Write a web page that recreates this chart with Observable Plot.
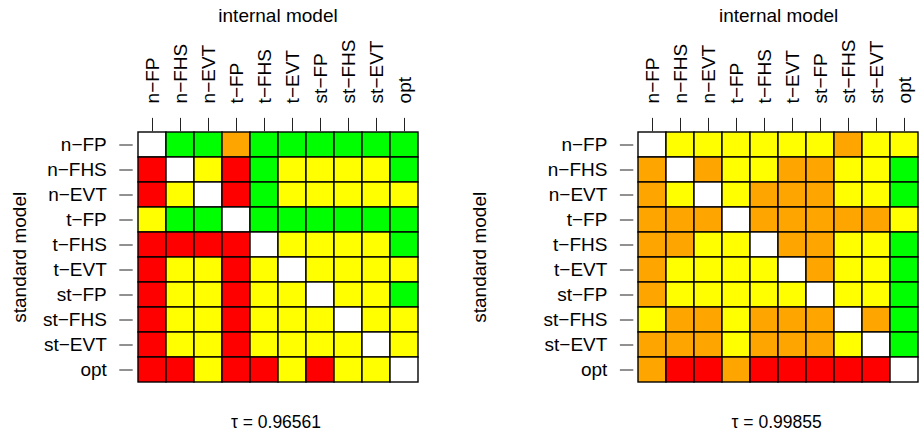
<!DOCTYPE html>
<html><head><meta charset="utf-8">
<script src="https://cdn.jsdelivr.net/npm/d3@7"></script>
<script src="https://cdn.jsdelivr.net/npm/@observablehq/plot@0.6"></script>
<style>
html,body{margin:0;padding:0;background:#fff;overflow:hidden;width:920px;height:438px;}
#wrap{position:relative;width:920px;height:438px;overflow:hidden;}
.panel{position:absolute;top:0;}
</style></head><body><div id="wrap"></div>
<script>
// model labels (rows = standard model, columns = internal model)
const models = ["n\u2212FP","n\u2212FHS","n\u2212EVT","t\u2212FP","t\u2212FHS","t\u2212EVT","st\u2212FP","st\u2212FHS","st\u2212EVT","opt"];
// cell categories: W = diagonal, G = green, Y = yellow, O = orange, R = red
const leftRows = [
  "WGGOGGGGGG",
  "RWYRGYYYYG",
  "RYWRGYYYYY",
  "YGGWGGGGGG",
  "RRRRWYYYYG",
  "RYYRYWYYYY",
  "RYYRYYWYYG",
  "RYYRYYYWYY",
  "RYYRYYYYWY",
  "RRYRRYRYYW"
];
const rightRows = [
  "WYYYYYYOYY",
  "OWOYYOOYYG",
  "OYWYOOOYYG",
  "OOOWOOOOOY",
  "OOYYWOOYYG",
  "OYYYYWOYYG",
  "OYYYYYWYYG",
  "YOOYOOOWOG",
  "OOOYOOOYWG",
  "ORRORRRRRW"
];
const tauLeft = "0.96561";
const tauRight = "0.99855";
const categories = ["W","G","Y","O","R"];
const palette = ["#ffffff","#00ff00","#ffff00","#ffa500","#ff0000"];

const FONT = "'Liberation Sans', Arial, Helvetica, sans-serif";
const FS = 19;

function panel(rows, tau, left, width, marginLeft) {
  const data = [];
  rows.forEach((r, i) => [...r].forEach((c, j) => data.push({std: models[i], int: models[j], v: c})));
  const gridW = 289.6;
  const plot = Plot.plot({
    width, height: 438,
    marginLeft, marginRight: width - marginLeft - gridW,
    marginTop: 130.3, marginBottom: 54.7,
    style: {fontFamily: FONT, fontSize: FS + "px", background: "white", color: "black", overflow: "visible"},
    x: {domain: models, padding: 0, axis: null},
    y: {domain: models, padding: 0, axis: null},
    color: {domain: categories, range: palette},
    marks: [
      Plot.cell(data, {x: "int", y: "std", fill: "v", stroke: "black", strokeWidth: 1.4}),
      Plot.axisX({anchor: "top", tickRotate: -90, tickSize: 13.4, tickPadding: 14, label: null, fontSize: FS, stroke: "#222", strokeWidth: 1, fill: "black"}),
      Plot.axisY({anchor: "left", tickSize: 13.4, tickPadding: 13, label: null, fontSize: FS, stroke: "#222", strokeWidth: 1, fill: "black"}),
      Plot.text(["internal model"], {frameAnchor: "top", dy: -122, fontSize: FS, fill: "black"}),
      Plot.text(["standard model"], {frameAnchor: "left", textAnchor: "middle", dx: -marginLeft + 19, rotate: -90, fontSize: FS, fill: "black"}),
      Plot.text([tau], {text: d => "\u03c4 = " + d, frameAnchor: "bottom", dx: -2, dy: 44, fontSize: 17.5, fill: "black"})
    ]
  });
  plot.classList.add("panel");
  plot.style.left = left + "px";
  document.getElementById("wrap").appendChild(plot);
}
panel(leftRows, tauLeft, 0, 460, 132.7);
panel(rightRows, tauRight, 460, 480, 173.3);
</script></body></html>
